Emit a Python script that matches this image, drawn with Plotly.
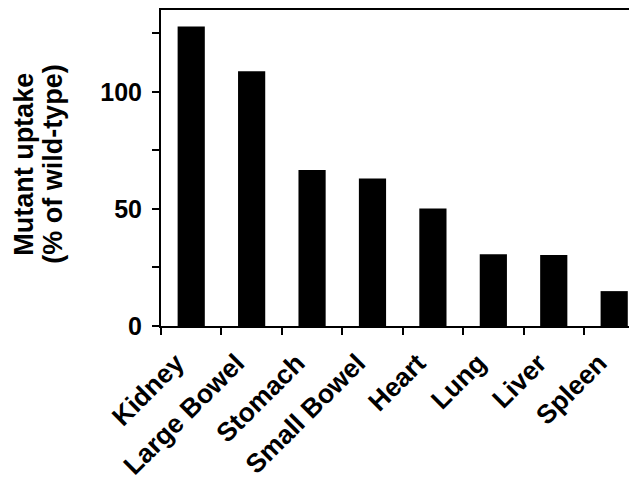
import plotly.graph_objects as go

categories = ["Kidney", "Large Bowel", "Stomach", "Small Bowel", "Heart", "Lung", "Liver", "Spleen"]
uptake = [128, 108.8, 66.6, 63.0, 50.2, 30.7, 30.3, 14.9]

y_tickvals = [0, 25, 50, 75, 100, 125]
y_ticktext = ["0", "", "50", "", "100", ""]
y_title_lines = ["Mutant uptake", "(% of wild-type)"]

font_family = "Liberation Sans, Arial, Helvetica, sans-serif"

fig = go.Figure(
    go.Bar(
        x=categories,
        y=uptake,
        width=0.45,
        marker=dict(color="black", line=dict(width=0)),
    )
)

fig.update_layout(
    width=637,
    height=481,
    margin=dict(l=153, r=0, t=2, b=163, autoexpand=False),
    plot_bgcolor="white",
    paper_bgcolor="white",
    showlegend=False,
    font=dict(family=font_family, size=24, color="black", weight="bold"),
)

fig.update_xaxes(
    type="category",
    range=[-0.5, 7.51],
    automargin=False,
    showline=True,
    linecolor="black",
    linewidth=2,
    mirror=True,
    ticks="outside",
    tickson="boundaries",
    ticklen=7,
    tickwidth=2,
    tickcolor="black",
    tickangle=-45,
    ticklabelshift=-15,
    ticklabelstandoff=9,
    tickfont=dict(family=font_family, size=26.5, color="black", weight="bold"),
    showgrid=False,
    zeroline=False,
)

fig.update_yaxes(
    range=[0, 135],
    automargin=False,
    showline=True,
    linecolor="black",
    linewidth=2,
    ticks="outside",
    ticklen=7,
    tickwidth=2,
    tickcolor="black",
    tickvals=y_tickvals,
    ticktext=y_ticktext,
    ticklabelstandoff=5,
    tickfont=dict(family=font_family, size=25, color="black", weight="bold"),
    showgrid=False,
    zeroline=False,
)

for text, xs in zip(y_title_lines, [-137, -108]):
    fig.add_annotation(
        text=text,
        xref="paper",
        yref="paper",
        x=0,
        y=0.51,
        xshift=xs,
        xanchor="center",
        yanchor="middle",
        textangle=-90,
        showarrow=False,
        font=dict(family=font_family, size=27, color="black", weight="bold"),
    )

fig.write_html("out.html")
